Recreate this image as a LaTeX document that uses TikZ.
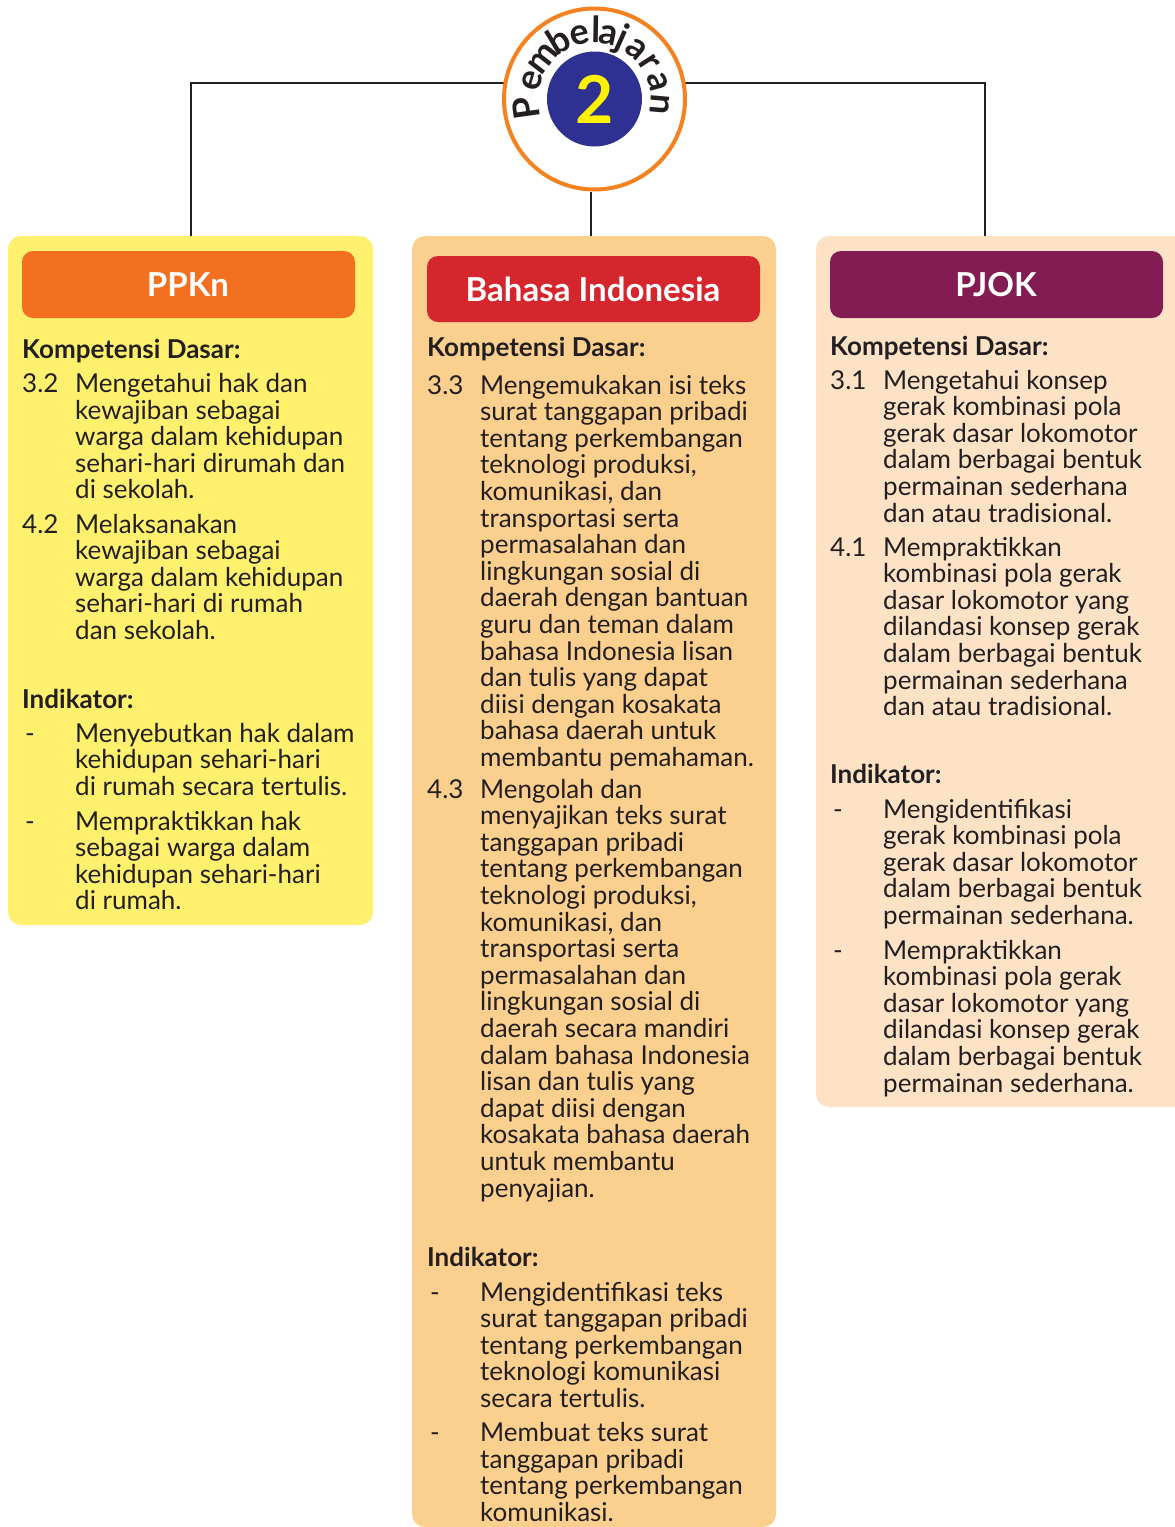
\documentclass[tikz,border=0pt]{standalone}
\usepackage{fontspec}
\setmainfont{Lato}
\usetikzlibrary{backgrounds}
\definecolor{linec}{HTML}{231F20}
\definecolor{textc}{HTML}{231F20}
\definecolor{ylbox}{HTML}{FFF16D}
\definecolor{orbox}{HTML}{FBCF8D}
\definecolor{pcbox}{HTML}{FDE2C6}
\definecolor{orhd}{HTML}{F37021}
\definecolor{rdhd}{HTML}{D5262E}
\definecolor{puhd}{HTML}{831C52}
\definecolor{circor}{HTML}{F58220}
\definecolor{circbl}{HTML}{2E3192}
\definecolor{numyl}{HTML}{FFF200}
\newcommand{\mypb}[1]{\parbox[t]{340pt}{\raggedright #1}}
\begin{document}
\begin{tikzpicture}[x=1pt,y=-1pt,
  txt/.style={anchor=base west, inner sep=0pt, text=textc,
    font=\fontsize{26}{26.6}\selectfont},
  bold/.style={txt, font=\bfseries\fontsize{26}{26.6}\selectfont},
  hdrtext/.style={inner sep=0pt, text=white, font=\bfseries\fontsize{33}{36}\selectfont},
  arcl/.style={anchor=base, inner sep=0pt, text=textc, font=\bfseries\fontsize{36}{36}\selectfont},
  conn/.style={draw=linec, line width=2.4pt}
]
\useasboundingbox (0,0) rectangle (1175,1527);
\clip (0,0) rectangle (1175,1527);

% column boxes
\path[fill=ylbox, rounded corners=13pt] (8,236) rectangle (373,925);
\path[fill=orbox, rounded corners=13pt] (412,236) rectangle (776,1527);
\path[fill=pcbox, rounded corners=13pt] (816,236) rectangle (1195,1107);
\coordinate (lbox) at (191,236);
\coordinate (mbox) at (591,236);
\coordinate (rbox) at (985,236);

% headers
\path[fill=orhd, rounded corners=11pt] (22,251) rectangle (355,318);
\path[fill=rdhd, rounded corners=11pt] (427,256) rectangle (760,322);
\path[fill=puhd, rounded corners=11pt] (830,251) rectangle (1163,318);
\node[hdrtext] (hppkn) at (188,285) {PPKn};
\node[hdrtext] (hbind) at (593,289) {Bahasa Indonesia};
\node[hdrtext] (hpjok) at (996,285) {PJOK};

% central circle
\node[circle, draw=circor, line width=4pt, fill=white, minimum size=181pt, inner sep=0pt] (circ) at (594.5,99) {};
\node[circle, fill=circbl, minimum size=95pt, inner sep=0pt] (inner) at (594.5,99) {};
\node[text=numyl, font=\bfseries\fontsize{66}{66}\selectfont, inner sep=0pt] (num) at (594.5,99) {2};
\begin{scope}[shift={(594.5,99)}, y=1pt]
  \node[arcl, rotate=98]  (pa1)  at (188:56) {P};
  \node[arcl, rotate=74]  (pa2)  at (164:56) {e};
  \node[arcl, rotate=52]  (pa3)  at (142:56) {m};
  \node[arcl, rotate=31]  (pa4)  at (121:56) {b};
  \node[arcl, rotate=13]  (pa5)  at (103:56) {e};
  \node[arcl, rotate=-1]  (pa6)  at (89:56) {l};
  \node[arcl, rotate=-12] (pa7)  at (78:56) {a};
  \node[arcl, rotate=-24] (pa8)  at (65:56) {j};
  \node[arcl, rotate=-40] (pa9)  at (50:56) {a};
  \node[arcl, rotate=-57] (pa10) at (33:56) {r};
  \node[arcl, rotate=-75] (pa11) at (15:56) {a};
  \node[arcl, rotate=-95] (pa12) at (-5:56) {n};
\end{scope}

% connectors
\begin{scope}[on background layer]
\draw[conn] (lbox) |- ([yshift=16pt]circ.center);
\draw[conn] (rbox) |- ([yshift=16pt]circ.center);
\draw[conn] (circ.south -| mbox) -- (mbox);
\end{scope}

% ---------- left column ----------
\node[bold] (lkd) at (22,358) {Kompetensi Dasar:};
\node[txt] (l32n) at (22,392.5) {3.2};
\node[txt] (l32) at (75,392.5) {\mypb{Mengetahui hak dan\\kewajiban sebagai\\warga dalam kehidupan\\sehari-hari dirumah dan\\di sekolah.}};
\node[txt] (l42n) at (22,533) {4.2};
\node[txt] (l42) at (75,533) {\mypb{Melaksanakan\\kewajiban sebagai\\warga dalam kehidupan\\sehari-hari di rumah\\dan sekolah.}};
\node[bold] (lind) at (22,708) {Indikator:};
\node[txt] (li1n) at (25,742) {-};
\node[txt] (li1) at (75,742) {\mypb{Menyebutkan hak dalam\\kehidupan sehari-hari\\di rumah secara tertulis.}};
\node[txt] (li2n) at (25,830) {-};
\node[txt] (li2) at (75,830) {\mypb{Mempraktikkan hak\\sebagai warga dalam\\kehidupan sehari-hari\\di rumah.}};

% ---------- middle column ----------
\node[bold] (mkd) at (427,356) {Kompetensi Dasar:};
\node[txt] (m33n) at (427,394) {3.3};
\node[txt] (m33) at (480,394) {\mypb{Mengemukakan isi teks\\surat tanggapan pribadi\\tentang perkembangan\\teknologi produksi,\\komunikasi, dan\\transportasi serta\\permasalahan dan\\lingkungan sosial di\\daerah dengan bantuan\\guru dan teman dalam\\bahasa Indonesia lisan\\dan tulis yang dapat\\diisi dengan kosakata\\bahasa daerah untuk\\membantu pemahaman.}};
\node[txt] (m43n) at (427,798) {4.3};
\node[txt] (m43) at (480,798) {\mypb{Mengolah dan\\menyajikan teks surat\\tanggapan pribadi\\tentang perkembangan\\teknologi produksi,\\komunikasi, dan\\transportasi serta\\permasalahan dan\\lingkungan sosial di\\daerah secara mandiri\\dalam bahasa Indonesia\\lisan dan tulis yang\\dapat diisi dengan\\kosakata bahasa daerah\\untuk membantu\\penyajian.}};
\node[bold] (mind) at (427,1266) {Indikator:};
\node[txt] (mi1n) at (430,1301) {-};
\node[txt] (mi1) at (480,1301) {\mypb{Mengidentifikasi teks\\surat tanggapan pribadi\\tentang perkembangan\\teknologi komunikasi\\secara tertulis.}};
\node[txt] (mi2n) at (430,1441.5) {-};
\node[txt] (mi2) at (480,1441.5) {\mypb{Membuat teks surat\\tanggapan pribadi\\tentang perkembangan\\komunikasi.}};

% ---------- right column ----------
\node[bold] (rkd) at (830,355) {Kompetensi Dasar:};
\node[txt] (r31n) at (830,389) {3.1};
\node[txt] (r31) at (883,389) {\mypb{Mengetahui konsep\\gerak kombinasi pola\\gerak dasar lokomotor\\dalam berbagai bentuk\\permainan sederhana\\dan atau tradisional.}};
\node[txt] (r41n) at (830,556) {4.1};
\node[txt] (r41) at (883,556) {\mypb{Mempraktikkan\\kombinasi pola gerak\\dasar lokomotor yang\\dilandasi konsep gerak\\dalam berbagai bentuk\\permainan sederhana\\dan atau tradisional.}};
\node[bold] (rind) at (830,783) {Indikator:};
\node[txt] (ri1n) at (833,818) {-};
\node[txt] (ri1) at (883,818) {\mypb{Mengidentifikasi\\gerak kombinasi pola\\gerak dasar lokomotor\\dalam berbagai bentuk\\permainan sederhana.}};
\node[txt] (ri2n) at (833,959) {-};
\node[txt] (ri2) at (883,959) {\mypb{Mempraktikkan\\kombinasi pola gerak\\dasar lokomotor yang\\dilandasi konsep gerak\\dalam berbagai bentuk\\permainan sederhana.}};
\end{tikzpicture}
\end{document}
